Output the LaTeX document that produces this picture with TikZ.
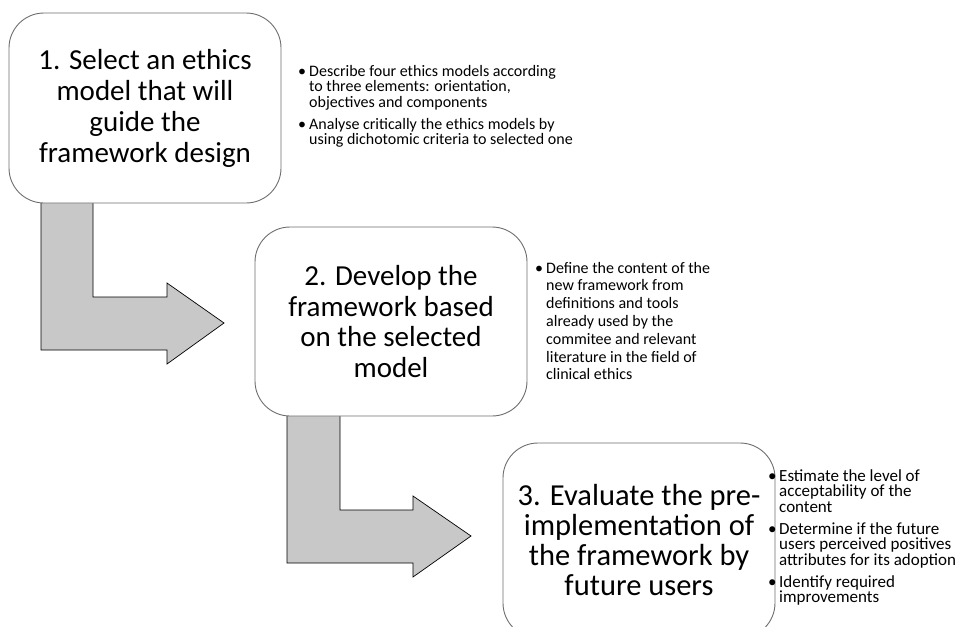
\documentclass[tikz,border=0pt]{standalone}
\usepackage{fontspec}
\setmainfont{Carlito}
\definecolor{boxline}{RGB}{110,110,110}
\definecolor{arrowfill}{RGB}{200,200,200}
\tikzset{
  stepbox/.style={draw=boxline, line width=0.9pt, fill=white, rounded corners=35pt,
    minimum width=272pt, minimum height=190pt, inner sep=0pt, align=center,
    font=\fontsize{29}{31}\selectfont},
  bentarrow/.style={draw=black, line width=0.7pt, fill=arrowfill, line join=miter},
  notes/.style={anchor=base west, inner sep=0pt, align=left},
}
\newcommand{\bul}{\smash{\makebox[11pt][l]{\textbullet}}}
\newcommand{\sm}[1]{\smash{#1}}
\begin{document}
\begin{tikzpicture}[x=1pt, y=-1pt]
\useasboundingbox (0,0) rectangle (963,626);
% bent arrows (drawn first, boxes cover their tops)
\draw[bentarrow] (41,195) -- (93,195) -- (93,297) -- (167,297) -- (167,283) -- (224,323)
  -- (167,364) -- (167,350) -- (41,350) -- cycle;
\draw[bentarrow] (287,408) -- (340,408) -- (340,510) -- (413,510) -- (413,496) -- (471,536)
  -- (413,577) -- (413,563) -- (287,563) -- cycle;
% step boxes
\node[stepbox] (b1) at (145,108) {1. Select an ethics\\model that will\\guide the\\framework design};
\node[stepbox, minimum height=189pt, font=\fontsize{29}{30.7}\selectfont] (b2) at (391,321.5) {2. Develop the\\framework based\\on the selected\\model};
\node[stepbox, minimum height=195pt, font=\fontsize{30.5}{30}\selectfont] (b3) at (639,540.5) {3. Evaluate the pre-\\implementation of\\the framework by\\future users};
% notes
\node[notes] (n1) at (298,76) {\fontsize{16}{15.5}\selectfont
  \begin{tabular}[t]{@{}l@{}l@{}}
  \bul & \sm{Describe four ethics models according}\\
       & \sm{to three elements: orientation,}\\
       & \sm{objectives and components}\\[6.5pt]
  \bul & \sm{Analyse critically the ethics models by}\\
       & \sm{using dichotomic criteria to selected one}
  \end{tabular}};
\node[notes] (n2) at (535,273) {\fontsize{16}{17.8}\selectfont
  \begin{tabular}[t]{@{}l@{}l@{}}
  \bul & \sm{Define the content of the}\\
       & \sm{new framework from}\\
       & \sm{definitions and tools}\\
       & \sm{already used by the}\\
       & \sm{commitee and relevant}\\
       & \sm{literature in the field of}\\
       & \sm{clinical ethics}
  \end{tabular}};
\node[notes] (n3) at (768,481) {\fontsize{17}{15.5}\selectfont
  \begin{tabular}[t]{@{}l@{}l@{}}
  \bul & \sm{Estimate the level of}\\
       & \sm{acceptability of the}\\
       & \sm{content}\\[6.5pt]
  \bul & \sm{Determine if the future}\\
       & \sm{users perceived positives}\\
       & \sm{attributes for its adoption}\\[6.5pt]
  \bul & \sm{Identify required}\\
       & \sm{improvements}
  \end{tabular}};
\end{tikzpicture}
\end{document}
